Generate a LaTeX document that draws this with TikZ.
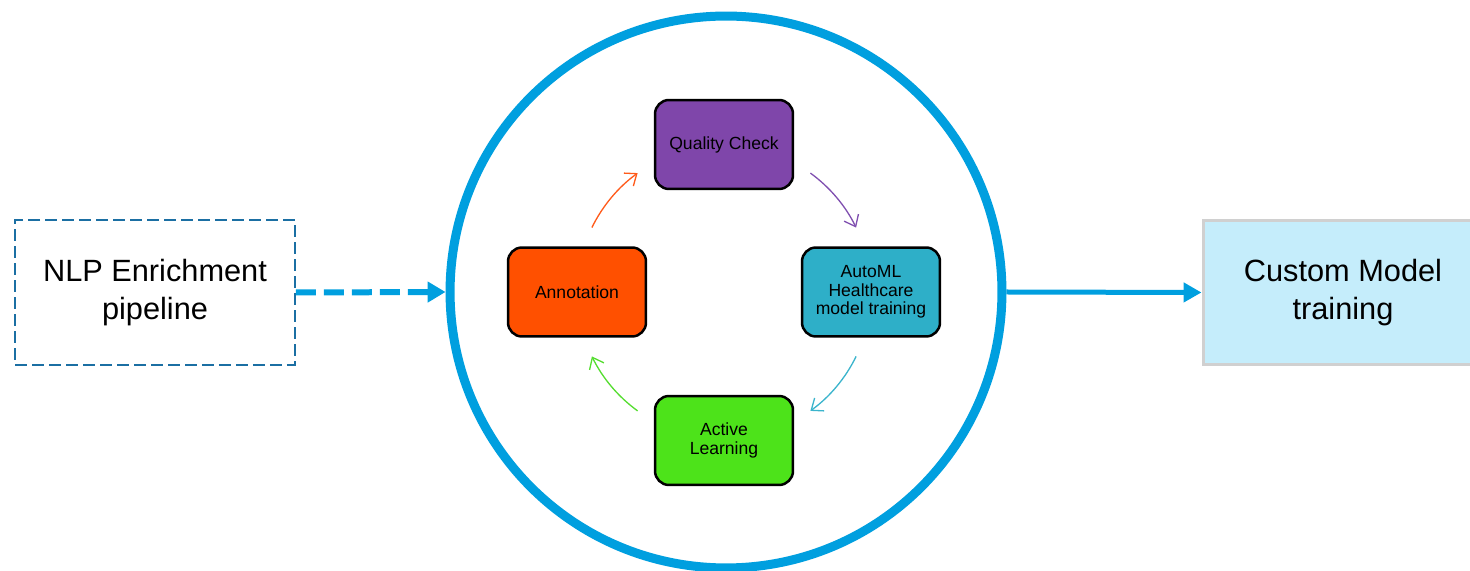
\documentclass[tikz,border=0pt]{standalone}
\usepackage{fontspec}
\setmainfont{Liberation Sans}
\usetikzlibrary{arrows.meta}
\definecolor{ringblue}{HTML}{009FDF}
\definecolor{dashblue}{HTML}{1B6FA3}
\definecolor{paleblue}{HTML}{C5EDFB}
\definecolor{boxgray}{HTML}{D0D0D0}
\definecolor{qcpurple}{HTML}{7F46AA}
\definecolor{mlteal}{HTML}{2EAFC8}
\definecolor{annorange}{HTML}{FF5000}
\definecolor{algreen}{HTML}{4DE31A}
\tikzset{
  bigtext/.style={font=\fontsize{17.5pt}{21.5pt}\selectfont, align=center},
  sidebox/.style={rectangle, minimum width=5.6cm, minimum height=2.9cm, bigtext},
  stagebox/.style={rectangle, rounded corners=0.28cm, draw=black, line width=0.05cm,
    minimum width=2.76cm, minimum height=1.78cm, align=center,
    font=\fontsize{10pt}{10.6pt}\selectfont},
  cyclearrow/.style={line width=0.75pt, -{Straight Barb[length=0.2cm, width=0.32cm]}},
}
\begin{document}
\begin{tikzpicture}[x=0.02cm, y=0.02cm]
  \useasboundingbox (0,0) rectangle (1470,571);

  % input and output boxes
  \node[sidebox, draw=dashblue, line width=0.04cm, dash pattern=on 0.24cm off 0.1cm]
    (nlp) at (155,278.5) {NLP Enrichment\\pipeline};
  \node[sidebox, fill=paleblue, draw=boxgray, line width=0.06cm]
    (custom) at (1343,278.5) {Custom Model\\training};

  % the loop ring
  \node[circle, draw=ringblue, line width=0.18cm, minimum size=11.04cm] (ring) at (726,279) {};
  \coordinate (loop) at (724,279);

  % stages of the loop
  \node[stagebox, fill=qcpurple] (qc) at (724,426.5) {Quality Check};
  \node[stagebox, fill=mlteal] (automl) at (871,279) {AutoML\\Healthcare\\model training};
  \node[stagebox, fill=annorange] (ann) at (577,279) {Annotation};
  \node[stagebox, fill=algreen] (al) at (724,130.5) {Active\\Learning};

  % arrows between stages, on a circle around the loop centre
  \draw[cyclearrow, draw={rgb,255:red,255;green,90;blue,26}]
    ([shift={(154:2.94cm)}]loop) arc[start angle=154, end angle=126, radius=2.94cm];
  \draw[cyclearrow, draw={rgb,255:red,128;green,80;blue,176}]
    ([shift={(54:2.94cm)}]loop) arc[start angle=54, end angle=26, radius=2.94cm];
  \draw[cyclearrow, draw={rgb,255:red,59;green,180;blue,204}]
    ([shift={(-26:2.94cm)}]loop) arc[start angle=-26, end angle=-54, radius=2.94cm];
  \draw[cyclearrow, draw={rgb,255:red,85;green,221;blue,48}]
    ([shift={(-126:2.94cm)}]loop) arc[start angle=-126, end angle=-154, radius=2.94cm];

  % connectors into and out of the ring
  \draw[ringblue, line width=0.12cm, dash pattern=on 0.4cm off 0.16cm,
        -{Triangle[length=0.36cm, width=0.4cm]}] (nlp.east) -- (ring.west);
  \draw[ringblue, line width=0.1cm,
        -{Triangle[length=0.36cm, width=0.38cm]}] (ring.east) -- (custom.west);
\end{tikzpicture}
\end{document}
